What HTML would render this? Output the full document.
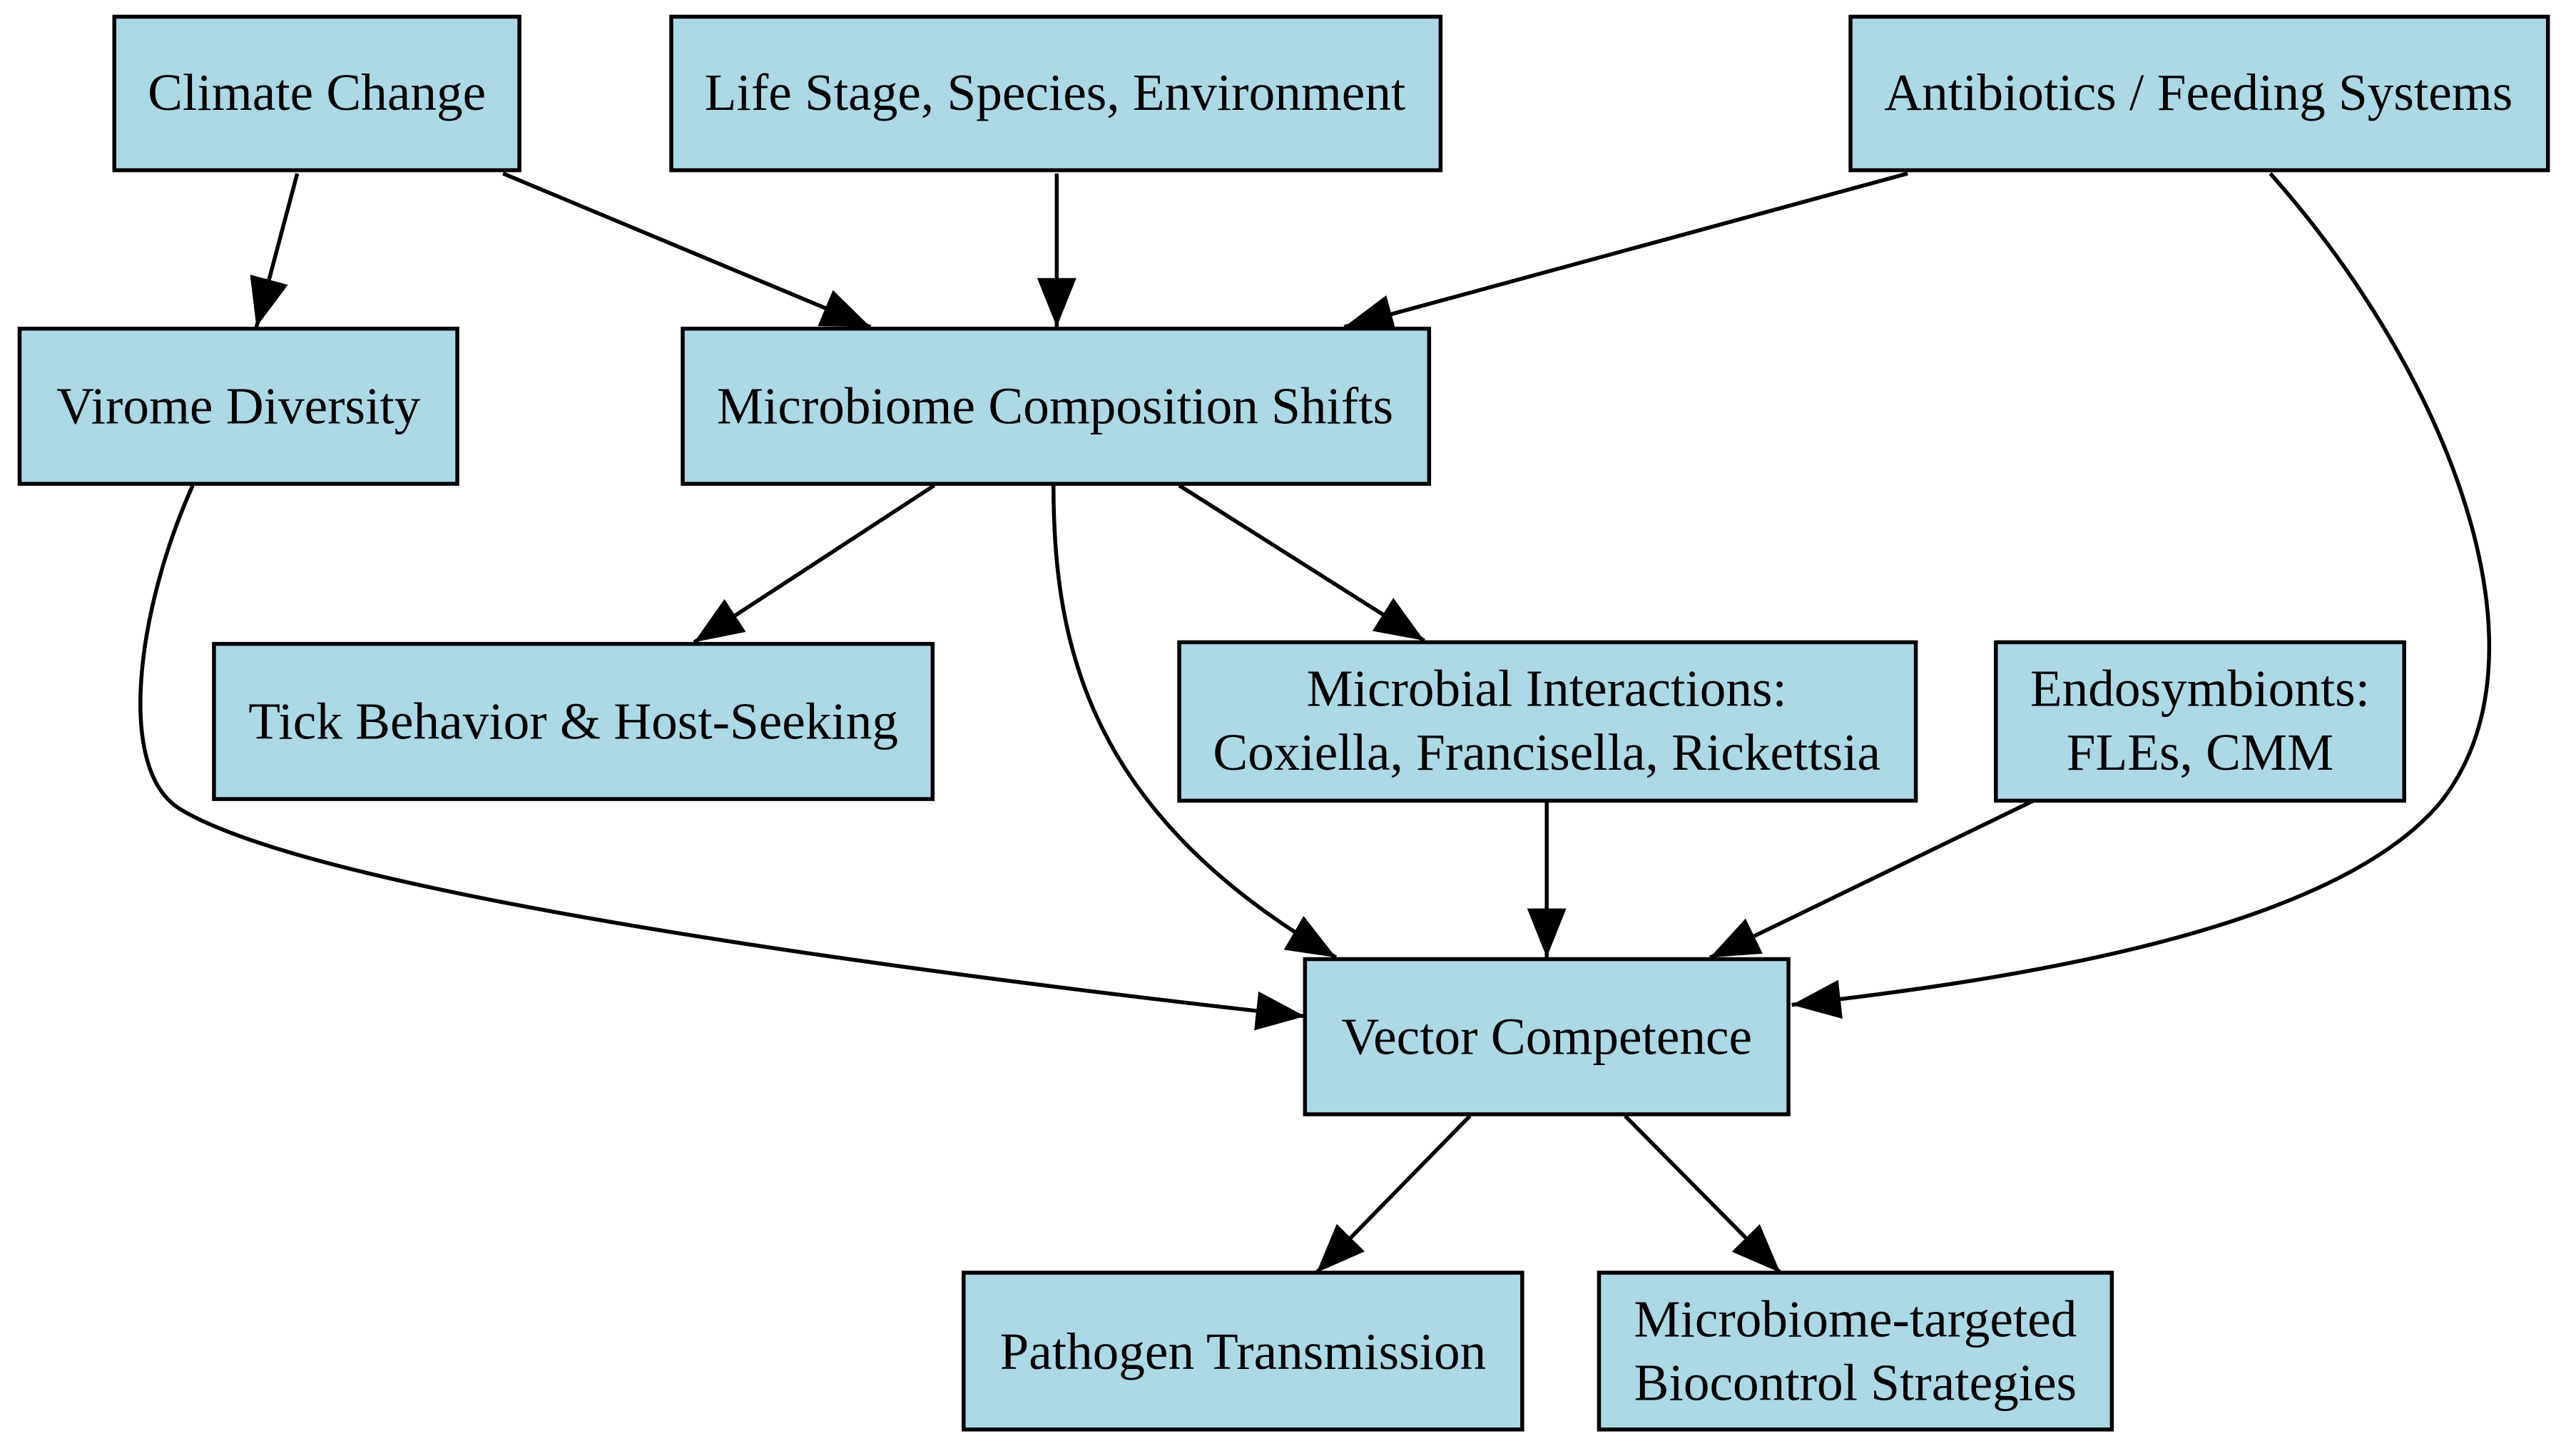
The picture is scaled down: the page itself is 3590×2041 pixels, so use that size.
<!DOCTYPE html>
<html><head><style>html,body{margin:0;padding:0;background:#fff;}svg{display:block;}</style></head>
<body>
<svg width="3590" height="2041" viewBox="0 0 1568 891" xmlns="http://www.w3.org/2000/svg">
<defs>
<marker id="a" markerUnits="userSpaceOnUse" markerWidth="34" markerHeight="28" refX="30" refY="12" orient="auto">
<polygon points="0,0 30,12 0,24" fill="#000"/>
</marker>
</defs>
<rect width="1568" height="891" fill="#fff"/>
<g fill="none" stroke="#000" stroke-width="2.4" marker-end="url(#a)">
<path d="M182,106 L157,200"/>
<path d="M308,106 L533,200"/>
<path d="M647,106 L647,200"/>
<path d="M1168,106 L823,200"/>
<path d="M1390,106 C1500,230 1565,400 1495,490 C1430,570 1230,600 1097,615"/>
<path d="M118,297 C85,370 70,470 110,495 C200,550 600,600 799,622"/>
<path d="M572,297 L425,393"/>
<path d="M645,297 C645,400 670,500 818,586"/>
<path d="M722,297 L872,392"/>
<path d="M947,490 L947,586"/>
<path d="M1245,490 L1047,586"/>
<path d="M900,683 L806,779"/>
<path d="M995,683 L1090,779"/>
</g>
<g fill="#add8e6" stroke="#000" stroke-width="2.4">
<rect x="70" y="10" width="248" height="94"/>
<rect x="411" y="10" width="471" height="94"/>
<rect x="1133" y="10" width="427" height="94"/>
<rect x="12" y="201" width="268" height="95"/>
<rect x="418" y="201" width="457" height="95"/>
<rect x="131" y="394" width="440" height="95"/>
<rect x="722" y="393" width="451" height="97"/>
<rect x="1222" y="393" width="250" height="97"/>
<rect x="799" y="587" width="296" height="95"/>
<rect x="590" y="779" width="342" height="96"/>
<rect x="979" y="779" width="314" height="96"/>
</g>
<g font-family="Liberation Serif, serif" font-size="32" text-anchor="middle" fill="#000">
<text x="194" y="67">Climate Change</text>
<text x="646" y="67">Life Stage, Species, Environment</text>
<text x="1346" y="67">Antibiotics / Feeding Systems</text>
<text x="146" y="259">Virome Diversity</text>
<text x="646" y="259">Microbiome Composition Shifts</text>
<text x="351" y="452">Tick Behavior &amp; Host-Seeking</text>
<text x="947" y="432">Microbial Interactions:</text>
<text x="947" y="471">Coxiella, Francisella, Rickettsia</text>
<text x="1347" y="432">Endosymbionts:</text>
<text x="1347" y="471">FLEs, CMM</text>
<text x="947" y="645">Vector Competence</text>
<text x="761" y="838">Pathogen Transmission</text>
<text x="1136" y="818">Microbiome-targeted</text>
<text x="1136" y="857">Biocontrol Strategies</text>
</g>
</svg>
</body></html>
